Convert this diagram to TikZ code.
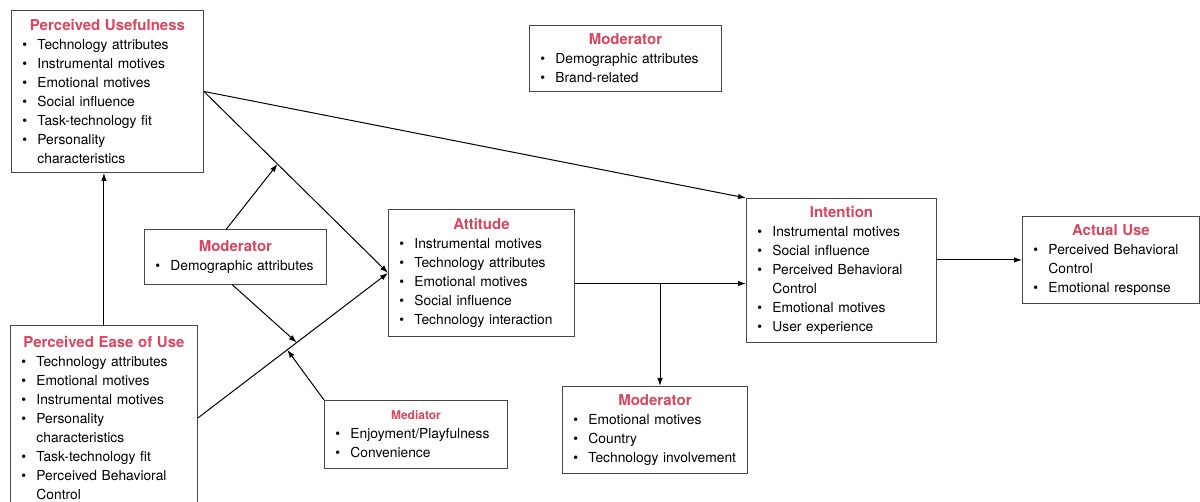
\documentclass[tikz,border=0pt]{standalone}
\usepackage{fontspec}
\setmainfont{TeX Gyre Heros}
\usepackage{xcolor}
\usetikzlibrary{arrows.meta,calc}
\definecolor{titlered}{RGB}{215,70,95}
\definecolor{boxgray}{RGB}{70,70,70}
\newcommand{\boxtitle}[1]{{\centering\fontsize{15}{19}\selectfont\bfseries\color{titlered}#1\par}}
\newcommand{\smalltitle}[1]{{\centering\fontsize{12}{19}\selectfont\bfseries\color{titlered}#1\par}}
\newcommand{\bitem}[1]{\hangindent=26pt\hangafter=1\noindent\hbox to 26pt{\hskip 11pt\textbullet\hfil}#1\par}
\tikzset{
  box/.style 2 args={draw=boxgray, line width=0.9pt, anchor=north west, inner sep=0pt, align=left,
    minimum width=#1, text width=#1, minimum height=#2, font=\fontsize{13.8}{19}\selectfont},
  link/.style={line width=1pt, -{Latex[length=8pt,width=5.5pt]}}
}

\begin{document}
\begin{tikzpicture}[x=1pt,y=-1pt]
\useasboundingbox (0,0) rectangle (1200,502);

% Text Node
\node[box={192pt}{162pt}] (pu) at (11,10) {\boxtitle{Perceived Usefulness}
  \bitem{Technology attributes}\bitem{Instrumental motives}\bitem{Emotional motives}
  \bitem{Social influence}\bitem{Task-technology fit}\bitem{Personality\newline characteristics}};
% Text Node
\node[box={187pt}{185pt}] (peou) at (10,325) {\boxtitle{Perceived Ease of Use}
  \bitem{Technology attributes}\bitem{Emotional motives}\bitem{Instrumental motives}
  \bitem{Personality\newline characteristics}\bitem{Task-technology fit}
  \bitem{Perceived Behavioral\newline Control}};
% Text Node
\node[box={182pt}{55pt}] (modL) at (144,229) {\boxtitle{Moderator}
  \bitem{Demographic attributes}};
% Text Node
\node[box={186pt}{127pt}] (att) at (388,209) {\boxtitle{Attitude}
  \bitem{Instrumental motives}\bitem{Technology attributes}\bitem{Emotional motives}
  \bitem{Social influence}\bitem{Technology interaction}};
% Text Node
\node[box={190pt}{144pt}] (int) at (746,198) {\boxtitle{Intention}
  \bitem{Instrumental motives}\bitem{Social influence}
  \bitem{Perceived Behavioral\newline Control}\bitem{Emotional motives}\bitem{User experience}};
% Text Node
\node[box={177pt}{87pt}] (act) at (1022,216) {\boxtitle{Actual Use}
  \bitem{Perceived Behavioral\newline Control}\bitem{Emotional response}};
% Text Node
\node[box={185pt}{87pt}] (modB) at (562,386) {\boxtitle{Moderator}
  \bitem{Emotional motives}\bitem{Country}\bitem{Technology involvement}};
% Text Node
\node[box={183pt}{68pt}] (med) at (324,400) {\smalltitle{Mediator}
  \bitem{Enjoyment/Playfulness}\bitem{Convenience}};
% Text Node
\node[box={192pt}{66pt}] (modT) at (529,25) {\boxtitle{Moderator}
  \bitem{Demographic attributes}\bitem{Brand-related}};

%Straight Lines
\draw[link] (peou.north) -- (peou.north |- pu.south);
\draw[link] (pu.east) -- (att.west);
\draw[link] (pu.east) -- (int.north west);
\draw[link] (peou.east) -- (att.west);
%Straight Lines
\coordinate (m1) at ($(pu.east)!0.4!(att.west)$);
\coordinate (m2) at ($(peou.east)!0.52!(att.west)$);
\coordinate (m3) at ($(peou.east)!0.47!(att.west)$);
\draw[link] ([xshift=-9pt]modL.north) -- (m1);
\draw[link] ([xshift=-3pt]modL.south) -- (m2);
\draw[link] (med.north west) -- (m3);
%Straight Lines
\coordinate (split) at (660,283.5);
\draw[link] (att.east |- split) -- (int.west |- split);
\draw[link] (split) -- (split |- modB.north);
\draw[link] (int.east |- act.west) -- (act.west);
\end{tikzpicture}
\end{document}
